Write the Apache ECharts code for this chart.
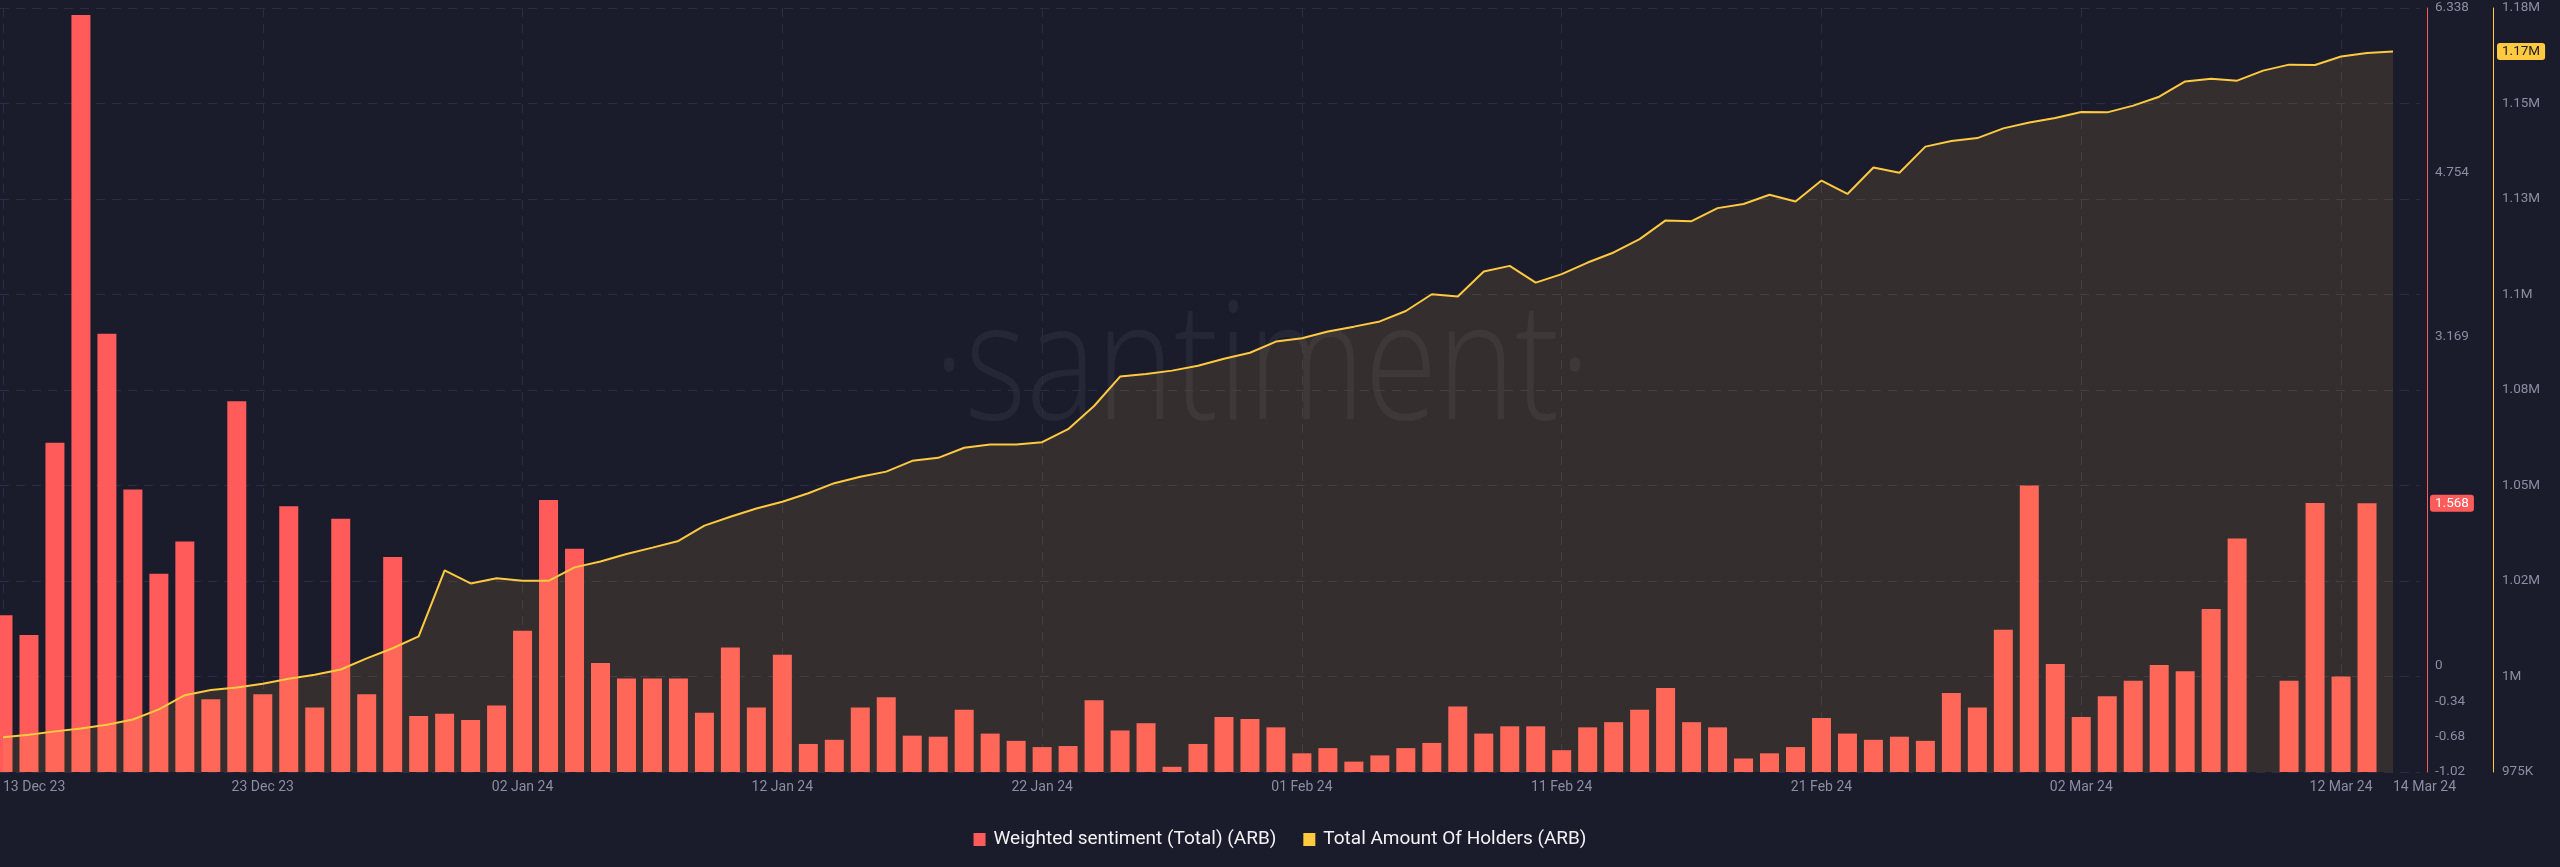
<!DOCTYPE html>
<html>
<head>
<meta charset="utf-8">
<script src="https://cdn.jsdelivr.net/npm/echarts@6/dist/echarts.min.js"></script>
<style>
html,body{margin:0;padding:0;background:#1a1b2b;}
#c{width:2560px;height:867px;}
</style>
</head>
<body>
<div id="c"></div>
<script>
const dates = [
 "13 Dec 23","14 Dec 23","15 Dec 23","16 Dec 23","17 Dec 23","18 Dec 23","19 Dec 23","20 Dec 23","21 Dec 23","22 Dec 23",
 "23 Dec 23","24 Dec 23","25 Dec 23","26 Dec 23","27 Dec 23","28 Dec 23","29 Dec 23","30 Dec 23","31 Dec 23","01 Jan 24",
 "02 Jan 24","03 Jan 24","04 Jan 24","05 Jan 24","06 Jan 24","07 Jan 24","08 Jan 24","09 Jan 24","10 Jan 24","11 Jan 24",
 "12 Jan 24","13 Jan 24","14 Jan 24","15 Jan 24","16 Jan 24","17 Jan 24","18 Jan 24","19 Jan 24","20 Jan 24","21 Jan 24",
 "22 Jan 24","23 Jan 24","24 Jan 24","25 Jan 24","26 Jan 24","27 Jan 24","28 Jan 24","29 Jan 24","30 Jan 24","31 Jan 24",
 "01 Feb 24","02 Feb 24","03 Feb 24","04 Feb 24","05 Feb 24","06 Feb 24","07 Feb 24","08 Feb 24","09 Feb 24","10 Feb 24",
 "11 Feb 24","12 Feb 24","13 Feb 24","14 Feb 24","15 Feb 24","16 Feb 24","17 Feb 24","18 Feb 24","19 Feb 24","20 Feb 24",
 "21 Feb 24","22 Feb 24","23 Feb 24","24 Feb 24","25 Feb 24","26 Feb 24","27 Feb 24","28 Feb 24","29 Feb 24","01 Mar 24",
 "02 Mar 24","03 Mar 24","04 Mar 24","05 Mar 24","06 Mar 24","07 Mar 24","08 Mar 24","09 Mar 24","10 Mar 24","11 Mar 24",
 "12 Mar 24","13 Mar 24","14 Mar 24"
];

const sentiment = [
 0.49, 0.30, 2.15, 6.27, 3.20, 1.70, 0.89, 1.20, -0.32, 2.55,
 -0.27, 1.54, -0.40, 1.42, -0.27, 1.05, -0.48, -0.46, -0.52, -0.38,
 0.34, 1.60, 1.13, 0.03, -0.12, -0.12, -0.12, -0.45, 0.18, -0.40,
 0.11, -0.75, -0.71, -0.40, -0.30, -0.67, -0.68, -0.42, -0.65, -0.72,
 -0.78, -0.77, -0.33, -0.62, -0.55, -0.97, -0.75, -0.49, -0.51, -0.59,
 -0.84, -0.79, -0.92, -0.86, -0.79, -0.74, -0.39, -0.65, -0.58, -0.58,
 -0.81, -0.59, -0.54, -0.42, -0.21, -0.54, -0.59, -0.89, -0.84, -0.78,
 -0.50, -0.65, -0.71, -0.68, -0.72, -0.26, -0.40, 0.35, 1.74, 0.02,
 -0.49, -0.29, -0.14, 0.01, -0.05, 0.55, 1.23, null, -0.14, 1.57,
 -0.10, 1.568, null
];

const holders = [
 984300, 985000, 985900, 986700, 987700, 989100, 991800, 995600, 997000, 997700,
 998700, 1000000, 1001100, 1002500, 1005500, 1008200, 1011400, 1029100, 1025600, 1027000,
 1026300, 1026300, 1029900, 1031500, 1033500, 1035200, 1037000, 1041100, 1043500, 1045700,
 1047500, 1049800, 1052500, 1054200, 1055600, 1058500, 1059300, 1062000, 1062900, 1062900,
 1063500, 1067000, 1073200, 1081100, 1081800, 1082700, 1084000, 1085900, 1087500, 1090500,
 1091400, 1093200, 1094500, 1095900, 1098700, 1103200, 1102600, 1109300, 1110800, 1106300,
 1108600, 1111700, 1114400, 1118000, 1123000, 1122800, 1126300, 1127400, 1129900, 1128100,
 1133700, 1130100, 1137200, 1135800, 1142800, 1144300, 1145100, 1147700, 1149300, 1150500,
 1152100, 1152000, 1153800, 1156200, 1160300, 1161000, 1160500, 1163200, 1164800, 1164700,
 1167000, 1167900, 1168300
];

const sentimentTicks = [-1.02, -0.68, -0.34, 0, 3.169, 4.754, 6.338];
const holderTickValues = [975000, 1000625, 1026250, 1051875, 1077500, 1103125, 1128750, 1154375, 1180000];
const holderTickLabels = ["975K", "1M", "1.02M", "1.05M", "1.08M", "1.1M", "1.13M", "1.15M", "1.18M"];

const sentName = "Weighted sentiment (Total) (ARB)";
const holderName = "Total Amount Of Holders (ARB)";

const RED = '#ff5b5b';
const YELLOW = '#ffc940';
const GRID = '#2b2e42';
const LABEL = '#8a8ea3';
const FONT = 'Roboto, "Liberation Sans", sans-serif';

let lastSent = null;
for (let i = sentiment.length - 1; i >= 0; i--) { if (sentiment[i] !== null) { lastSent = sentiment[i]; break; } }
const lastHolder = holders[holders.length - 1];

const chart = echarts.init(document.getElementById('c'), null, {renderer: 'canvas'});
const option = {
  backgroundColor: '#1a1b2b',
  animation: false,
  textStyle: {fontFamily: FONT},
  graphic: [{
    type: 'text', x: 1262, y: 372, z: 0, scaleX: 0.8,
    style: {
      text: '\u00b7santiment\u00b7',
      font: '300 165px "Open Sans", "Noto Sans", sans-serif',
      fill: 'rgba(255,255,255,0.055)',
      textAlign: 'center', textVerticalAlign: 'middle'
    }
  }],
  legend: {
    top: 825, left: 'center', itemWidth: 12, itemHeight: 13, itemGap: 27,
    textStyle: {color: '#f2f2f5', fontSize: 19, fontFamily: FONT, padding: [0, 0, 0, 3]},
    data: [{name: sentName, icon: 'rect'}, {name: holderName, icon: 'rect'}]
  },
  grid: [
    {left: 0, right: 167, top: 8, bottom: 95},
    {left: 0, right: 140, top: 8, bottom: 95}
  ],
  xAxis: [{
    type: 'category', gridIndex: 0, data: dates, boundaryGap: false,
    axisLine: {show: false}, axisTick: {show: false},
    axisLabel: {
      color: LABEL, fontSize: 14, margin: 8, fontFamily: FONT,
      interval: (i) => i % 10 === 0 || i === dates.length - 1,
      alignMinLabel: 'left', alignMaxLabel: 'left'
    },
    splitLine: {show: true, interval: (i) => i % 10 === 0, lineStyle: {color: GRID, type: [9, 7], width: 1}}
  }, {
    type: 'value', gridIndex: 1, show: false, min: 0, max: 1
  }],
  yAxis: [{
    type: 'value', gridIndex: 0, position: 'right', offset: 34,
    min: -1.02, max: 6.338, startValue: -1.02,
    axisLine: {show: true, lineStyle: {color: RED, width: 1}},
    axisTick: {show: false}, splitLine: {show: false},
    axisLabel: {customValues: sentimentTicks, color: LABEL, fontSize: 13.5, margin: 8, fontFamily: FONT,
      formatter: (v) => String(v)},
    axisPointer: {
      show: true, type: 'line', value: lastSent, status: 'show', triggerTooltip: false,
      lineStyle: {opacity: 0, width: 0},
      label: {show: true, backgroundColor: RED, color: '#ffffff', fontSize: 13.5, fontFamily: FONT,
        padding: [2, 5, 1, 5], margin: 3, formatter: (p) => String(p.value)}
    }
  }, {
    type: 'value', gridIndex: 0, position: 'right', offset: 100,
    min: holderTickValues[0], max: holderTickValues[holderTickValues.length - 1],
    axisLine: {show: true, lineStyle: {color: YELLOW, width: 1}},
    axisTick: {show: false}, splitLine: {show: false},
    axisLabel: {customValues: holderTickValues, color: LABEL, fontSize: 13.5, margin: 9, fontFamily: FONT,
      formatter: (v) => { const k = holderTickValues.indexOf(v); return k >= 0 ? holderTickLabels[k] : ''; }},
    axisPointer: {
      show: true, type: 'line', value: lastHolder, status: 'show', triggerTooltip: false,
      lineStyle: {opacity: 0, width: 0},
      label: {show: true, backgroundColor: YELLOW, color: '#1a1b2b', fontSize: 13.5, fontFamily: FONT,
        padding: [2, 5, 1, 5], margin: 4, formatter: (p) => (p.value / 1e6).toFixed(2) + 'M'}
    }
  }, {
    type: 'value', gridIndex: 1, min: 0, max: holderTickValues.length - 1, interval: 1,
    axisLine: {show: false}, axisTick: {show: false}, axisLabel: {show: false},
    splitLine: {show: true, lineStyle: {color: GRID, type: [9, 7], width: 1}}
  }],
  series: [{
    name: sentName, type: 'bar', xAxisIndex: 0, yAxisIndex: 0,
    data: sentiment, barWidth: 19, clip: true,
    itemStyle: {color: RED}
  }, {
    name: holderName, type: 'line', xAxisIndex: 0, yAxisIndex: 1,
    data: holders, showSymbol: false, symbol: 'none',
    lineStyle: {color: YELLOW, width: 2},
    itemStyle: {color: YELLOW},
    areaStyle: {color: 'rgba(255,205,80,0.165)'}
  }]
};
chart.setOption(option);
</script>
</body>
</html>
